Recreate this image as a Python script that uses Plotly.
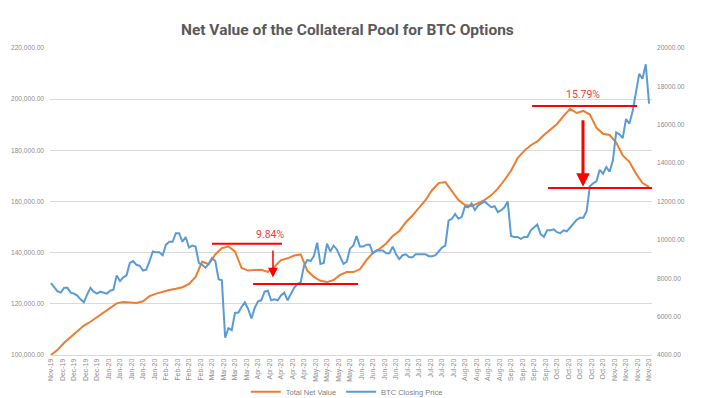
import plotly.graph_objects as go
import pandas as pd

# ---------------- data ----------------
start_date = "2019-11-28"

# Total Net Value (left axis), every 4 days from 2019-11-28
total_net_value = [
    100000, 102000, 104800, 107000, 109500, 111500, 113000, 114800, 116500, 118400,
    120200, 120700, 120500, 120300, 121000, 123000, 124000, 124800, 125400, 125900,
    126500, 127800, 130500, 136500, 135500, 139300, 141800, 142400, 140500, 134000,
    133000, 133200, 133300, 132500, 134500, 137100, 137800, 138900, 139300, 133000,
    130500, 129000, 128500, 129300, 131300, 132400, 132400, 133500, 137100, 140000,
    141500, 143600, 146500, 148500, 151900, 154500, 157500, 160600, 164500, 167200,
    167600, 164000, 160600, 158600, 158200, 159400, 160600, 162500, 165000, 168400,
    172000, 177000, 179800, 182000, 183500, 186000, 188000, 190300, 193500, 196200,
    194600, 195400, 194000, 188800, 186500, 186000, 183000, 178000, 175500, 171000,
    167200, 165700,
]

# BTC Closing Price (right axis), every 2 days from 2019-11-28
btc_closing_price = [
    7750, 7550, 7320, 7250, 7500, 7500, 7250, 7200, 7100, 6900, 6750, 7150, 7500, 7300, 7200, 7300, 7250,
    7200, 7350, 7400, 8150, 7850, 8050, 8150, 8800, 8900, 8700, 8650, 8400, 8450, 8900, 9400, 9350,
    9350, 9200, 9750, 9900, 9900, 10350, 10350, 9900, 10150, 9600, 9700, 9650, 8800, 8700, 8550, 8750,
    9050, 8900, 7950, 7900,
    4900, 5400, 5300, 6200, 6200, 6500, 6750, 6400, 5900, 6450, 6800, 6850, 7300, 7350, 6850, 6900,
    6850, 7100, 7250, 6850, 7150, 7500, 7700, 7800, 8650,
    8950, 8900, 9150, 9850, 8750, 8800, 9800, 9400, 9700, 9500, 9150, 8750, 8850, 9550, 9700, 10200,
    9650, 9650, 9750, 9750, 9300, 9450, 9450, 9450, 9300, 9300, 9650, 9250, 9000, 9200,
    9250, 9100, 9100, 9250, 9250, 9250, 9250, 9150, 9150, 9200, 9400, 9600, 9700, 11000, 11100, 11350,
    11100, 11200, 11750, 11700, 11900, 11550, 11800, 11900, 12000, 11850, 11700, 11750, 11450, 11550, 11700,
    12000, 10200, 10150, 10150, 10050, 10150, 10150, 10500, 10650, 10800, 10300, 10150, 10500, 10500,
    10550, 10400, 10350, 10500, 10450, 10650, 10900, 11050, 11150, 11150, 11500,
    12800, 12950, 13050, 13650, 13450, 13800, 13550, 14150, 15600, 15500, 15300, 16300, 16050, 16700,
    17800, 18650, 18400, 19150, 17100,
]

series_names = ["Total Net Value", "BTC Closing Price"]
drop_labels = ["9.84%", "15.79%"]

tnv_dates = pd.date_range(start_date, periods=len(total_net_value), freq="4D")
btc_dates = pd.date_range(start_date, periods=len(btc_closing_price), freq="2D")

t0 = pd.Timestamp(start_date)


def day(d):
    return (t0 + pd.Timedelta(days=d)).strftime("%Y-%m-%d %H:%M:%S")


RED = "#FF0000"

fig = go.Figure()
fig.add_trace(go.Scatter(
    x=tnv_dates, y=total_net_value, name=series_names[0], mode="lines",
    line=dict(color="#ED7D31", width=2), yaxis="y", hoverinfo="skip",
))
fig.add_trace(go.Scatter(
    x=btc_dates, y=btc_closing_price, name=series_names[1], mode="lines",
    line=dict(color="#5B9BD5", width=2), yaxis="y2", hoverinfo="skip",
))

shapes = []
for (d0, d1, yv) in [(98, 140.6, 143500), (123, 186.9, 127750),
                     (292.8, 356.7, 197300), (302.5, 367, 165300)]:
    shapes.append(dict(type="line", xref="x", yref="y", x0=day(d0), x1=day(d1),
                       y0=yv, y1=yv, line=dict(color=RED, width=2)))

annotations = [
    dict(x=day(133.3), y=147000, xref="x", yref="y", text=drop_labels[0], showarrow=False,
         font=dict(family="Roboto, Arial, sans-serif", size=10.5, color="#F03C3C")),
    dict(x=day(323.8), y=201700, xref="x", yref="y", text=drop_labels[1], showarrow=False,
         font=dict(family="Roboto, Arial, sans-serif", size=10.5, color="#F03C3C")),
    dict(x=day(135.1), y=130300, xref="x", yref="y", ax=day(135.1), ay=141400,
         axref="x", ayref="y", text="", showarrow=True, arrowhead=2, arrowsize=1.3,
         arrowwidth=1.5, arrowcolor=RED),
    dict(x=day(323.8), y=165800, xref="x", yref="y", ax=day(323.8), ay=192300,
         axref="x", ayref="y", text="", showarrow=True, arrowhead=2, arrowsize=0.9,
         arrowwidth=3, arrowcolor=RED),
]

tick_font = dict(family="Liberation Sans, Arial, sans-serif", size=6.6, color="#8C8C8C")

# page body has an 8px default margin, so the figure is 8px smaller than the window
fig.update_layout(
    width=713, height=390,
    margin=dict(l=42, r=69, t=40, b=43, autoexpand=False),
    paper_bgcolor="white", plot_bgcolor="white",
    title=dict(text="<b>Net Value of the Collateral Pool for BTC Options</b>",
               x=0.494, xref="paper", xanchor="center", y=0.944, yanchor="middle",
               font=dict(family="Roboto, Arial, sans-serif", size=15.5, color="#595959")),
    xaxis=dict(
        type="date", range=[day(-0.6), day(365.8)], automargin=False,
        tick0=day(0), dtick=7 * 86400000, tickformat="%b-%y", tickangle=-90,
        showgrid=False, zeroline=False, showline=True, linecolor="#D9D9D9", linewidth=1,
        ticks="", tickfont=dict(family="Liberation Sans, Arial, sans-serif", size=6.9, color="#8C8C8C"),
    ),
    yaxis=dict(
        range=[100000, 220000], dtick=20000, tickformat=",.2f", automargin=False,
        showgrid=True, gridcolor="#D9D9D9", gridwidth=1, zeroline=False,
        showline=False, ticks="", tickfont=tick_font, ticklabelstandoff=5,
    ),
    yaxis2=dict(
        range=[4000, 20000], dtick=2000, tickformat=".2f", overlaying="y", side="right",
        showgrid=False, zeroline=False, showline=False, ticks="", tickfont=tick_font,
        ticklabelstandoff=4, automargin=False,
    ),
    legend=dict(orientation="h", x=0.493, xanchor="center", y=-0.12, yanchor="middle",
                font=dict(family="Liberation Sans, Arial, sans-serif", size=7.5, color="#7F7F7F"),
                bgcolor="rgba(0,0,0,0)"),
    shapes=shapes,
    annotations=annotations,
)

fig.write_html("out.html")
